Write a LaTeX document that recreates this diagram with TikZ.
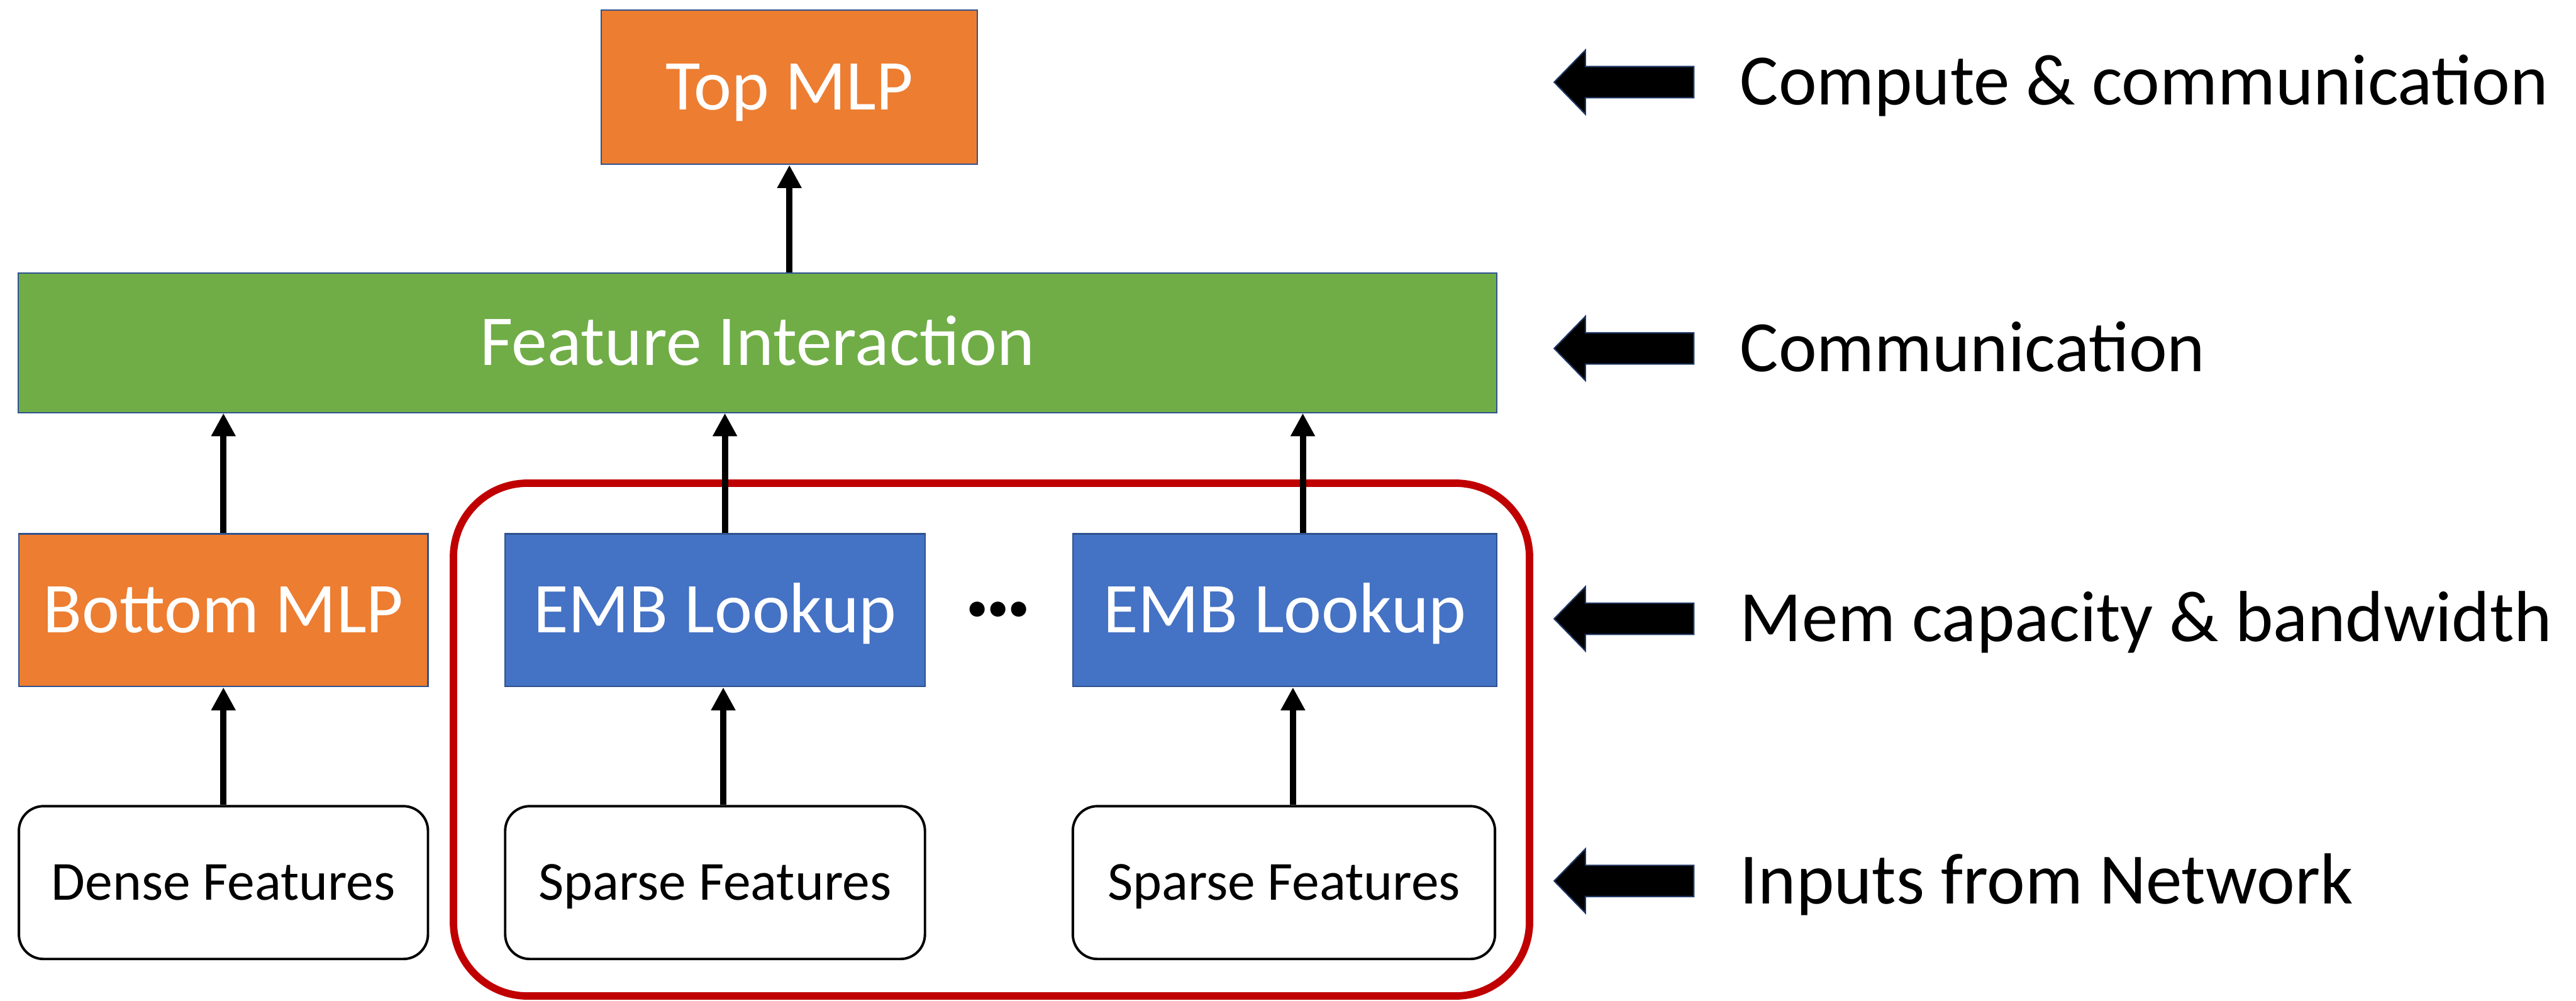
\documentclass[tikz,border=0pt]{standalone}
\usepackage{fontspec}
\setmainfont{Carlito}
\usetikzlibrary{arrows.meta}
\definecolor{orangeC}{HTML}{ED7D31}
\definecolor{blueC}{HTML}{4472C4}
\definecolor{greenC}{HTML}{70AD47}
\definecolor{edgeC}{HTML}{2F528F}
\definecolor{redC}{HTML}{C00000}
\definecolor{navyC}{HTML}{203864}
\begin{document}
\begin{tikzpicture}[x=1pt,y=-1pt,
  fillbox/.style={draw=edgeC, line width=0.8pt, text=white, inner sep=0pt,
    font=\fontsize{43.5}{50}\selectfont, text height=27.5pt, text depth=0pt},
  orangebox/.style={fillbox, fill=orangeC},
  bluebox/.style={fillbox, fill=blueC},
  greenbox/.style={fillbox, fill=greenC},
  inbox/.style={draw=black, line width=1.5pt, fill=white, rounded corners=15pt, inner sep=0pt,
    font=\fontsize{33.5}{40}\selectfont, text height=21.2pt, text depth=0pt,
    minimum height=93pt},
  arr/.style={line width=3.8pt, -{Triangle[length=14pt,width=14pt]}},
  lbl/.style={anchor=west, inner sep=0pt, font=\fontsize{44}{50}\selectfont,
    text height=27.8pt, text depth=0pt},
  blockarr/.style={fill=black, draw=navyC, line width=0.8pt},
  redbox/.style={draw=redC, line width=4.5pt, rounded corners=45pt}
]
\useasboundingbox (0,0) rectangle (1568,609);

\draw[redbox] (276,294) rectangle (931,606);

\node[orangebox, minimum width=229pt, minimum height=94pt] (top) at (480.5,53) {Top MLP};
\node[greenbox, minimum width=900pt, minimum height=85pt] (fi) at (461,208.5) {Feature Interaction};
\node[orangebox, minimum width=249pt, minimum height=93pt] (bm) at (136,371.3) {Bottom MLP};
\node[bluebox, minimum width=255.5pt, minimum height=93pt] (e1) at (435.25,371.3) {EMB Lookup};
\node[bluebox, minimum width=258pt, minimum height=93pt] (e2) at (782,371.3) {EMB Lookup};
\node[inbox, minimum width=249pt] (d) at (136,537) {Dense Features};
\node[inbox, minimum width=255.5pt] (s1) at (435.25,537) {Sparse Features};
\node[inbox, minimum width=257pt] (s2) at (781.5,537) {Sparse Features};
\node[font=\bfseries\fontsize{62}{64}\selectfont, inner sep=0pt] (dots) at (607.5,371) {.\kern-4pt.\kern-4pt.};

\draw[arr] (d.north) -- (bm.south);
\draw[arr] (bm.north) -- (bm.north |- fi.south);
\draw[arr] ([xshift=5pt]s1.north) -- ([xshift=5pt]e1.south);
\draw[arr] ([xshift=6pt]e1.north) -- ([xshift=6pt]e1.north |- fi.south);
\draw[arr] ([xshift=5.5pt]s2.north) -- ([xshift=5.5pt]s2.north |- e2.south);
\draw[arr] ([xshift=11pt]e2.north) -- ([xshift=11pt]e2.north |- fi.south);
\draw[arr] (fi.north -| top.south) -- (top.south);

\foreach \yy/\nm/\txt in {50/l1/Compute \& communication, 212/l2/Communication,
    376.5/l3/Mem capacity \& bandwidth, 536/l4/Inputs from Network} {
  \filldraw[blockarr] (946,\yy) -- (965,\yy-19.5) -- (965,\yy-9.5) -- (1031,\yy-9.5)
    -- (1031,\yy+9.5) -- (965,\yy+9.5) -- (965,\yy+19.5) -- cycle;
  \node[lbl] (\nm) at (1059,\yy) {\txt};
}
\end{tikzpicture}
\end{document}
